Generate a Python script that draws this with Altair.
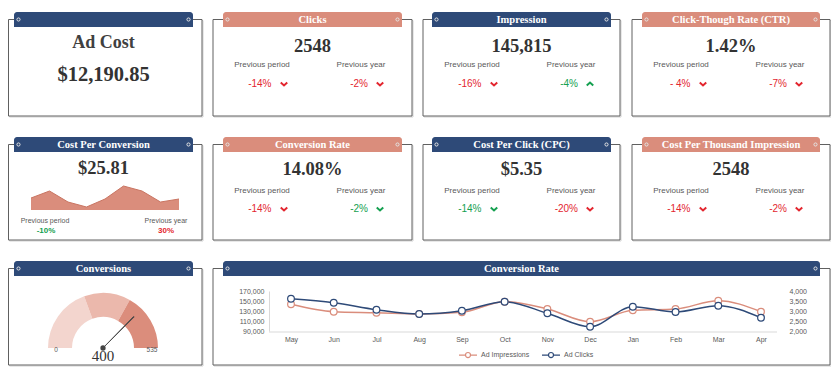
import math
import altair as alt
import pandas as pd

W, H = 823, 362
OFF = 8  # page margin: reference pixel -> canvas pixel


def P(v):
    return v - OFF


# ---------------- data ----------------
ad_cost_title = "Ad Cost"
ad_cost = "$12,190.85"

kpi_titles = ["Clicks", "Impression", "Click-Though  Rate (CTR)",
              "Conversion Rate", "Cost Per Click (CPC)", "Cost Per Thousand  Impression"]
kpi_values = ["2548", "145,815", "1.42%", "14.08%", "$5.35", "2548"]
period_pct = ["-14%", "-16%", "- 4%", "-14%", "-14%", "-14%"]
period_up = [False, False, False, False, False, False]
period_good = [False, False, False, False, True, False]
year_pct = ["-2%", "-4%", "-7%", "-2%", "-20%", "-2%"]
year_up = [False, True, False, False, False, False]
year_good = [False, True, False, True, False, False]

cpconv_title = "Cost Per Conversion"
cpconv_value = "$25.81"
cpconv_trend = [12, 19, 8, 3, 11, 24, 19, 8, 11]
cpconv_period = "-10%"
cpconv_year = "30%"

conv_title = "Conversions"
conv_value = 400
conv_max = 535
conv_bands = [0, 208, 354, 535]

rate_title = "Conversion Rate"
months = ["May", "Jun", "Jul", "Aug", "Sep", "Oct", "Nov", "Dec", "Jan", "Feb", "Mar", "Apr"]
ad_impressions = [143400, 128600, 126600, 124000, 127400, 148600, 134000, 108600, 131400, 134000, 150600, 128600]
ad_clicks = [3615, 3415, 3065, 2850, 3015, 3465, 2885, 2215, 3215, 2950, 3265, 2665]
series_names = ["Ad Impressions", "Ad Clicks"]
imp_ticks = [90000, 110000, 130000, 150000, 170000]
clk_ticks = [2000, 2500, 3000, 3500, 4000]

# ---------------- styles / layout ----------------
NAVY = "#2E4A78"
SALMON = "#DA8D7C"
RED = "#E3262F"
GREEN = "#15A050"
DARK = "#333333"
GRAY = "#595959"
FRAME = "#606060"
GAUGE_COLORS = ["#F3D5CE", "#EBB8AC", "#DB8D7C"]
SERIF = "Liberation Serif"
SANS = "Liberation Sans"

COL_L = [8.5, 213, 423, 632]     # frame edges
COL_R = [202, 412, 620, 830]
COL_HL = [14, 223, 432, 642]     # header edges
COL_HR = [193, 402, 611, 820]
HDR_TOP = [12, 137, 261]
HDR_H = 15
ROW_BOT = [116, 240, 365]
VAL_Y = [46, 169]
LAB_Y = [65, 191]
PCT_Y = [84, 209]
kpi_slots = [(1, 0), (2, 0), (3, 0), (1, 1), (2, 1), (3, 1)]
kpi_colors = [SALMON, NAVY, SALMON, SALMON, NAVY, SALMON]

cards = [(0, 0, 0, "", NAVY)]
for i, (c, r) in enumerate(kpi_slots):
    cards.append((c, c, r, kpi_titles[i], kpi_colors[i]))
cards += [(0, 0, 1, cpconv_title, NAVY),
          (0, 0, 2, conv_title, NAVY),
          (1, 3, 2, rate_title, NAVY)]

frames, shadows, headers, htitles, hdots = [], [], [], [], []
for c0, c1, r, t, col in cards:
    l, rt, hl, hr = COL_L[c0], COL_R[c1], COL_HL[c0], COL_HR[c1]
    mid = HDR_TOP[r] + HDR_H / 2
    frames.append(dict(x=P(l), x2=P(rt), y=P(mid), y2=P(ROW_BOT[r])))
    shadows.append(dict(x=P(l) + 1, x2=P(rt) + 1, y=P(mid) + 1, y2=P(ROW_BOT[r]) + 1))
    headers.append(dict(x=P(hl), x2=P(hr), y=P(HDR_TOP[r]), y2=P(HDR_TOP[r] + HDR_H), color=col))
    htitles.append(dict(x=P((hl + hr) / 2), y=P(mid), text=t))
    hdots.append(dict(x=P(hl + 4.5), y=P(mid)))
    hdots.append(dict(x=P(hr - 4.5), y=P(mid)))

serif_rows = [dict(x=P(103.5), y=P(43), text=ad_cost_title, fs=18, color="#404040"),
              dict(x=P(103.5), y=P(75), text=ad_cost, fs=20.5, color=DARK),
              dict(x=P(103.5), y=P(168), text=cpconv_value, fs=18.5, color=DARK)]
label_rows = [dict(x=P(45), y=P(221), text="Previous period", fs=7),
              dict(x=P(166), y=P(221), text="Previous year", fs=7)]
pct_rows, chev_down, chev_up = [], [], []
for i, (c, r) in enumerate(kpi_slots):
    l, rt = COL_L[c], COL_R[c]
    serif_rows.append(dict(x=P((l + rt) / 2), y=P(VAL_Y[r]), text=kpi_values[i], fs=18.5, color=DARK))
    label_rows.append(dict(x=P(l + 49), y=P(LAB_Y[r]), text="Previous period", fs=8))
    label_rows.append(dict(x=P(l + 148), y=P(LAB_Y[r]), text="Previous year", fs=8))
    pc = GREEN if period_good[i] else RED
    yc = GREEN if year_good[i] else RED
    pct_rows.append(dict(x=P(l + 58.5), y=P(PCT_Y[r]), text=period_pct[i], color=pc))
    pct_rows.append(dict(x=P(l + 155), y=P(PCT_Y[r]), text=year_pct[i], color=yc))
    (chev_up if period_up[i] else chev_down).append(dict(x=P(l + 71), y=P(PCT_Y[r]), color=pc))
    (chev_up if year_up[i] else chev_down).append(dict(x=P(l + 167), y=P(PCT_Y[r]), color=yc))

spark_pct_rows = [dict(x=P(46), y=P(231), text=cpconv_period, color=GREEN),
                  dict(x=P(166), y=P(231), text=cpconv_year, color=RED)]

XP = alt.X("x:Q", scale=None, axis=None)
YP = alt.Y("y:Q", scale=None, axis=None)
X2P = alt.X2("x2:Q")
Y2P = alt.Y2("y2:Q")

layers = []
layers.append(alt.Chart(pd.DataFrame(shadows)).mark_rect(fill="transparent", stroke="#d2d2d2", strokeWidth=1)
              .encode(x=XP, x2=X2P, y=YP, y2=Y2P))
layers.append(alt.Chart(pd.DataFrame(frames)).mark_rect(fill="white", stroke=FRAME, strokeWidth=1)
              .encode(x=XP, x2=X2P, y=YP, y2=Y2P))
layers.append(alt.Chart(pd.DataFrame(headers)).mark_rect(cornerRadiusTopLeft=3, cornerRadiusTopRight=3)
              .encode(x=XP, x2=X2P, y=YP, y2=Y2P, color=alt.Color("color:N", scale=None)))
layers.append(alt.Chart(pd.DataFrame(hdots)).mark_point(shape="circle", filled=False, size=10, strokeWidth=1,
                                                        color="#e4e4e4", opacity=1)
              .encode(x=XP, y=YP))
layers.append(alt.Chart(pd.DataFrame(htitles)).mark_text(font=SERIF, fontWeight="bold", fontSize=10.5,
                                                         color="white", baseline="middle", align="center")
              .encode(x=XP, y=YP, text="text:N"))
layers.append(alt.Chart(pd.DataFrame(serif_rows)).mark_text(font=SERIF, fontWeight="bold", baseline="middle",
                                                            align="center")
              .encode(x=XP, y=YP, text="text:N", size=alt.Size("fs:Q", scale=None),
                      color=alt.Color("color:N", scale=None)))
layers.append(alt.Chart(pd.DataFrame(label_rows)).mark_text(font=SANS, color=GRAY, baseline="middle",
                                                            align="center")
              .encode(x=XP, y=YP, text="text:N", size=alt.Size("fs:Q", scale=None)))
layers.append(alt.Chart(pd.DataFrame(pct_rows)).mark_text(font=SANS, fontSize=10, baseline="middle",
                                                          align="right")
              .encode(x=XP, y=YP, text="text:N", color=alt.Color("color:N", scale=None)))
layers.append(alt.Chart(pd.DataFrame(spark_pct_rows)).mark_text(font=SANS, fontSize=8, fontWeight="bold",
                                                                baseline="middle", align="center")
              .encode(x=XP, y=YP, text="text:N", color=alt.Color("color:N", scale=None)))
layers.append(alt.Chart(pd.DataFrame(chev_down)).mark_point(shape="M-1,-0.45L0,0.45L1,-0.45", filled=False,
                                                            size=42, strokeWidth=2, opacity=1)
              .encode(x=XP, y=YP, color=alt.Color("color:N", scale=None)))
layers.append(alt.Chart(pd.DataFrame(chev_up)).mark_point(shape="M-1,0.45L0,-0.45L1,0.45", filled=False,
                                                          size=42, strokeWidth=2, opacity=1)
              .encode(x=XP, y=YP, color=alt.Color("color:N", scale=None)))

# ---- sparkline (Cost Per Conversion) ----
sp_df = pd.DataFrame({"i": list(range(len(cpconv_trend))), "v": cpconv_trend})
layers.append(alt.Chart(sp_df).mark_area(color=SALMON, opacity=1, line={"color": "#C97562", "strokeWidth": 1})
              .encode(x=alt.X("i:Q", scale=alt.Scale(domain=[0, len(cpconv_trend) - 1], range=[P(31), P(179)],
                                                     nice=False, zero=False), axis=None),
                      y=alt.Y("v:Q", scale=alt.Scale(domain=[0, 25], range=[P(210), P(185)], nice=False),
                              axis=None)))

# ---- gauge (Conversions) ----
theta_scale = alt.Scale(domain=[0, conv_max], range=[-math.pi / 2, math.pi / 2])
GX, GY = P(103), P(348)
g_df = pd.DataFrame({"start": conv_bands[:-1], "end": conv_bands[1:], "color": GAUGE_COLORS})
layers.append(alt.Chart(g_df).mark_arc(radius=55, radius2=31)
              .encode(theta=alt.Theta("start:Q", scale=theta_scale, stack=None), theta2="end:Q",
                      color=alt.Color("color:N", scale=None), x=alt.value(GX), y=alt.value(GY)))
n_df = pd.DataFrame({"start": [conv_value - 1.5], "end": [conv_value + 1.5]})
layers.append(alt.Chart(n_df).mark_arc(radius=44, radius2=0, color="#454545", stroke="#454545", strokeWidth=0.8)
              .encode(theta=alt.Theta("start:Q", scale=theta_scale, stack=None), theta2="end:Q",
                      x=alt.value(GX), y=alt.value(GY)))
layers.append(alt.Chart(pd.DataFrame({"a": [0]})).mark_circle(size=28, color="#454545", opacity=1)
              .encode(x=alt.value(GX), y=alt.value(GY)))
gl_df = pd.DataFrame([dict(x=P(56), y=P(350), text=str(conv_bands[0])),
                      dict(x=P(152), y=P(350), text=str(conv_max))])
layers.append(alt.Chart(gl_df).mark_text(font=SANS, fontSize=6.5, color=GRAY, baseline="middle")
              .encode(x=XP, y=YP, text="text:N"))
layers.append(alt.Chart(pd.DataFrame([dict(x=GX, y=P(356), text=str(conv_value))]))
              .mark_text(font=SERIF, fontSize=15, color=DARK, baseline="middle")
              .encode(x=XP, y=YP, text="text:N"))

# ---- line chart (Conversion Rate) ----
layers.append(alt.Chart(pd.DataFrame({"a": [0]})).mark_rule(color="#d9d9d9", strokeWidth=1)
              .encode(x=alt.value(P(269)), x2=alt.value(P(777)), y=alt.value(P(332))))

imp_df = pd.DataFrame({"month": months, "value": ad_impressions, "series": series_names[0]})
clk_df = pd.DataFrame({"month": months, "value": ad_clicks, "series": series_names[1]})
x_scale = alt.Scale(domain=months, range=[P(291), P(761)], padding=0)
imp_scale = alt.Scale(domain=[imp_ticks[0], imp_ticks[-1]], range=[P(331), P(291)], nice=False, zero=False)
clk_scale = alt.Scale(domain=[clk_ticks[0], clk_ticks[-1]], range=[P(331), P(291)], nice=False, zero=False)
axis_font = dict(labelFont=SANS, labelFontSize=7, labelColor=GRAY, grid=False, title=None, ticks=False,
                 zindex=1)
x_axis = alt.Axis(orient="bottom", offset=P(332) - H, domain=False, labelPadding=3, labelAngle=0, **axis_font)
imp_axis = alt.Axis(orient="left", offset=-P(269), values=imp_ticks, format=",.0f", domainColor="#d9d9d9",
                    labelPadding=5, **axis_font)
clk_axis = alt.Axis(orient="right", offset=P(784) - W, values=clk_ticks, format=",.0f", domain=False,
                    labelPadding=5, **axis_font)
color_scale = alt.Scale(domain=series_names, range=[SALMON, NAVY])
LEG_PATH = "M-1,0L-0.28,0M0.28,0L1,0M0.28,0A0.28,0.28,0,1,1,-0.28,0A0.28,0.28,0,1,1,0.28,0"
legend = alt.Legend(orient="none", legendX=P(458), legendY=P(354) - 9, direction="horizontal", title=None,
                    symbolType=LEG_PATH, symbolSize=324, symbolStrokeWidth=1.2, symbolFillColor="white",
                    labelFont=SANS, labelFontSize=7, labelColor=GRAY, columnPadding=9, labelOffset=3,
                    padding=0)

layers.append(alt.Chart(imp_df).mark_line(interpolate="monotone", strokeWidth=1.5)
              .encode(x=alt.X("month:N", scale=x_scale, axis=x_axis),
                      y=alt.Y("value:Q", scale=imp_scale, axis=imp_axis),
                      color=alt.Color("series:N", scale=color_scale, legend=legend)))
layers.append(alt.Chart(clk_df).mark_line(interpolate="monotone", strokeWidth=1.5)
              .encode(x=alt.X("month:N", scale=x_scale, axis=None),
                      y=alt.Y("value:Q", scale=clk_scale, axis=clk_axis),
                      color=alt.Color("series:N", scale=color_scale, legend=legend)))
layers.append(alt.Chart(imp_df).mark_point(filled=True, fill="white", stroke=SALMON, strokeWidth=1.2, size=45,
                                           opacity=1)
              .encode(x=alt.X("month:N", scale=x_scale, axis=None),
                      y=alt.Y("value:Q", scale=imp_scale, axis=None)))
layers.append(alt.Chart(clk_df).mark_point(filled=True, fill="white", stroke=NAVY, strokeWidth=1.2, size=45,
                                           opacity=1)
              .encode(x=alt.X("month:N", scale=x_scale, axis=None),
                      y=alt.Y("value:Q", scale=clk_scale, axis=None)))

chart = (alt.layer(*layers)
         .resolve_scale(x="independent", y="independent", theta="independent")
         .properties(width=W, height=H, padding=0, background="white",
                     autosize=alt.AutoSizeParams(type="none"))
         .configure_view(strokeWidth=0))

chart.save("out.html", embed_options={"renderer": "svg", "actions": False})
